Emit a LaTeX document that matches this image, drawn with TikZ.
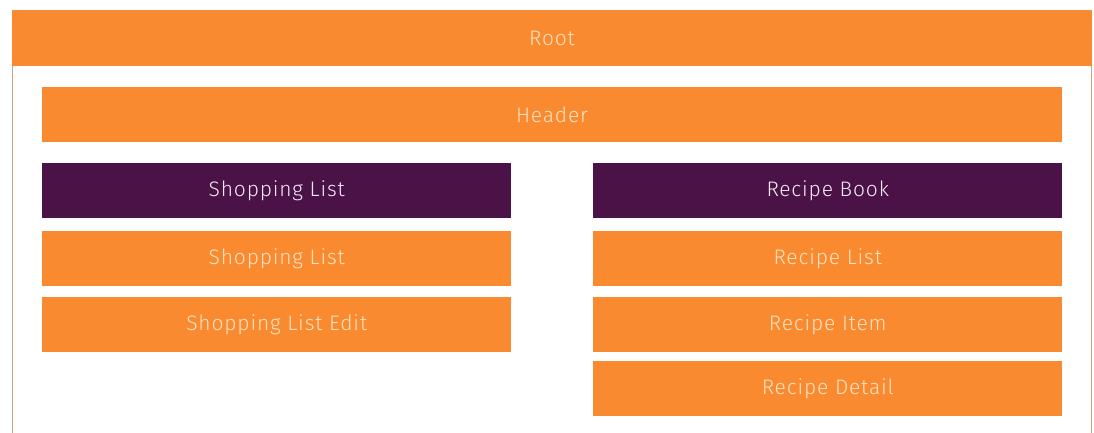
\documentclass[tikz,border=0pt]{standalone}
\usepackage{fontspec}
\setmainfont{Fira Sans}[UprightFont=* Light, LetterSpace=4]
\usetikzlibrary{positioning}

\definecolor{rootorange}{HTML}{FA8A2F}
\definecolor{bookpurple}{HTML}{4B1248}
\definecolor{framebrown}{HTML}{C9A27E}
\definecolor{cream}{HTML}{FFE2C2}
\definecolor{lavwhite}{HTML}{F4EAF3}

\tikzset{
  box/.style={rectangle, inner sep=0pt, minimum height=55pt,
    font=\fontsize{21}{25}\selectfont},
  orangebox/.style={box, fill=rootorange, text=cream},
  purplebox/.style={box, fill=bookpurple, text=lavwhite},
  colbox/.style={minimum width=469pt}
}

\begin{document}
\begin{tikzpicture}[x=1pt,y=1pt,node distance=10pt]
   \useasboundingbox (0,0) rectangle (1094,432);
   % frame of the root component
   \draw[framebrown, line width=0.8pt] (12.5,-2) -- (12.5,410) -- (1091.5,410) -- (1091.5,-2);
   \node[orangebox, minimum width=1080pt, minimum height=56pt] (root) at (552,394) {Root};
   \node[orangebox, minimum width=1020pt] (header) at (552,317.5) {Header};
   % left column
   \node[purplebox,colbox] (shop) at (276.75,241.5) {Shopping List};
   \node[orangebox,colbox] (shoplist) [below=13pt of shop] {Shopping List};
   \node[orangebox,colbox] (shopedit) [below=of shoplist] {Shopping List Edit};
   % right column
   \node[purplebox,colbox] (book) at (827.75,241.5) {Recipe Book};
   \node[orangebox,colbox] (reclist) [below=13pt of book] {Recipe List};
   \node[orangebox,colbox] (recitem) [below=of reclist] {Recipe Item};
   \node[orangebox,colbox] (recdetail) [below=9pt of recitem] {Recipe Detail};
\end{tikzpicture}
\end{document}
